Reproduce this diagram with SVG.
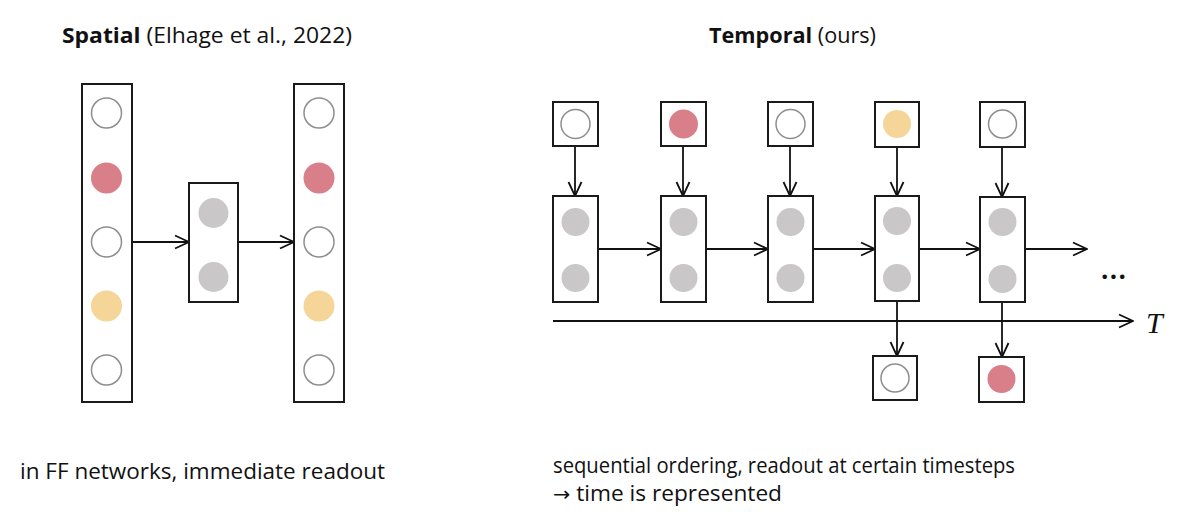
<svg xmlns="http://www.w3.org/2000/svg" width="1200" height="527" viewBox="0 0 1200 527">
<defs>
<marker id="arr" viewBox="0 0 16 16" refX="15" refY="8" markerWidth="16" markerHeight="16" markerUnits="userSpaceOnUse" orient="auto">
<path d="M1,1.5 L15,8 L1,14.5" fill="none" stroke="#111" stroke-width="1.8"/>
</marker>
<style>
.box{fill:#fff;stroke:#1a1a1a;stroke-width:2}
.e{fill:#fff;stroke:#8e8e8e;stroke-width:1.5}
.r{fill:#d97f8a}
.y{fill:#f5d598}
.g{fill:#c9c7c8}
.c{stroke:#111;stroke-width:1.8;fill:none;marker-end:url(#arr)}
.t{font-family:"Open Sans","Liberation Sans",sans-serif;fill:#111}
</style>
</defs>
<rect width="1200" height="527" fill="#fff"/>
<text class="t" x="62" y="43" font-size="22" textLength="290" lengthAdjust="spacingAndGlyphs"><tspan font-weight="bold">Spatial</tspan> (Elhage et al., 2022)</text>
<text class="t" x="709" y="43" font-size="22" textLength="167" lengthAdjust="spacingAndGlyphs"><tspan font-weight="bold">Temporal</tspan> (ours)</text>

<g id="connectors">
<line class="c" x1="132" y1="242" x2="189" y2="242"/>
<line class="c" x1="238" y1="242" x2="294" y2="242"/>
<line class="c" x1="575" y1="146" x2="575" y2="196"/>
<line class="c" x1="683" y1="146" x2="683" y2="196"/>
<line class="c" x1="790" y1="146" x2="790" y2="196"/>
<line class="c" x1="897" y1="147" x2="897" y2="196"/>
<line class="c" x1="1002" y1="147" x2="1002" y2="197"/>
<line class="c" x1="598" y1="249" x2="661" y2="249"/>
<line class="c" x1="706" y1="249" x2="768" y2="249"/>
<line class="c" x1="813" y1="249" x2="875" y2="249"/>
<line class="c" x1="919" y1="249" x2="980" y2="249"/>
<line class="c" x1="1025" y1="249" x2="1087" y2="249"/>
<line class="c" x1="553" y1="321" x2="1133" y2="321"/>
<line class="c" x1="897" y1="301" x2="897" y2="356"/>
<line class="c" x1="1002" y1="302" x2="1002" y2="357"/>
</g>

<g id="spatial-input">
<rect class="box" x="82" y="84" width="50" height="318"/>
<circle class="e" cx="106.5" cy="113" r="15"/>
<circle class="r" cx="106.5" cy="178" r="15.5"/>
<circle class="e" cx="106.5" cy="242" r="15"/>
<circle class="y" cx="106.5" cy="306" r="15.5"/>
<circle class="e" cx="106.5" cy="370" r="15"/>
</g>
<g id="spatial-hidden">
<rect class="box" x="189" y="183" width="49" height="119"/>
<circle class="g" cx="213.5" cy="213" r="15"/>
<circle class="g" cx="213.5" cy="277" r="15"/>
</g>
<g id="spatial-output">
<rect class="box" x="294" y="84" width="50" height="318"/>
<circle class="e" cx="319" cy="113" r="15"/>
<circle class="r" cx="319" cy="178" r="15.5"/>
<circle class="e" cx="319" cy="242" r="15"/>
<circle class="y" cx="319" cy="306" r="15.5"/>
<circle class="e" cx="319" cy="370" r="15"/>
</g>

<g id="in1"><rect class="box" x="553" y="102" width="45" height="44"/><circle class="e" cx="575.5" cy="124" r="14.5"/></g>
<g id="in2"><rect class="box" x="661" y="102" width="45" height="44"/><circle class="r" cx="683.5" cy="124" r="14.5"/></g>
<g id="in3"><rect class="box" x="768" y="102" width="45" height="44"/><circle class="e" cx="790.5" cy="124" r="14.5"/></g>
<g id="in4"><rect class="box" x="875" y="102" width="44" height="45"/><circle class="y" cx="897" cy="124" r="14"/></g>
<g id="in5"><rect class="box" x="980" y="102" width="45" height="45"/><circle class="e" cx="1002.5" cy="124" r="14"/></g>

<g id="h1"><rect class="box" x="553" y="196" width="45" height="106"/><circle class="g" cx="575.5" cy="222" r="14"/><circle class="g" cx="575.5" cy="278" r="14"/></g>
<g id="h2"><rect class="box" x="661" y="196" width="45" height="106"/><circle class="g" cx="683.5" cy="222" r="14"/><circle class="g" cx="683.5" cy="278" r="14"/></g>
<g id="h3"><rect class="box" x="768" y="196" width="45" height="106"/><circle class="g" cx="790.5" cy="222" r="14"/><circle class="g" cx="790.5" cy="278" r="14"/></g>
<g id="h4"><rect class="box" x="875" y="196" width="44" height="105"/><circle class="g" cx="897" cy="221" r="14"/><circle class="g" cx="897" cy="278" r="14"/></g>
<g id="h5"><rect class="box" x="980" y="197" width="45" height="105"/><circle class="g" cx="1002.5" cy="222" r="14"/><circle class="g" cx="1002.5" cy="279" r="14"/></g>

<g id="out4"><rect class="box" x="873" y="356" width="44" height="44"/><circle class="e" cx="895" cy="378" r="14"/></g>
<g id="out5"><rect class="box" x="979" y="357" width="45" height="45"/><circle class="r" cx="1001.5" cy="379" r="14"/></g>

<text class="t" x="1101" y="279" font-size="26" font-weight="bold" textLength="25" lengthAdjust="spacing">...</text>
<text x="1146" y="333" font-size="30" font-style="italic" font-family="'Liberation Serif','DejaVu Serif',serif" fill="#111">T</text>

<text class="t" x="20" y="479" font-size="22" textLength="365" lengthAdjust="spacingAndGlyphs">in FF networks, immediate readout</text>
<text class="t" x="553" y="473" font-size="22" textLength="462" lengthAdjust="spacingAndGlyphs">sequential ordering, readout at certain timesteps</text>
<text class="t" x="553" y="501" font-size="22" textLength="229" lengthAdjust="spacingAndGlyphs"><tspan font-family="'DejaVu Sans',sans-serif" font-size="20">→</tspan> time is represented</text>
</svg>
